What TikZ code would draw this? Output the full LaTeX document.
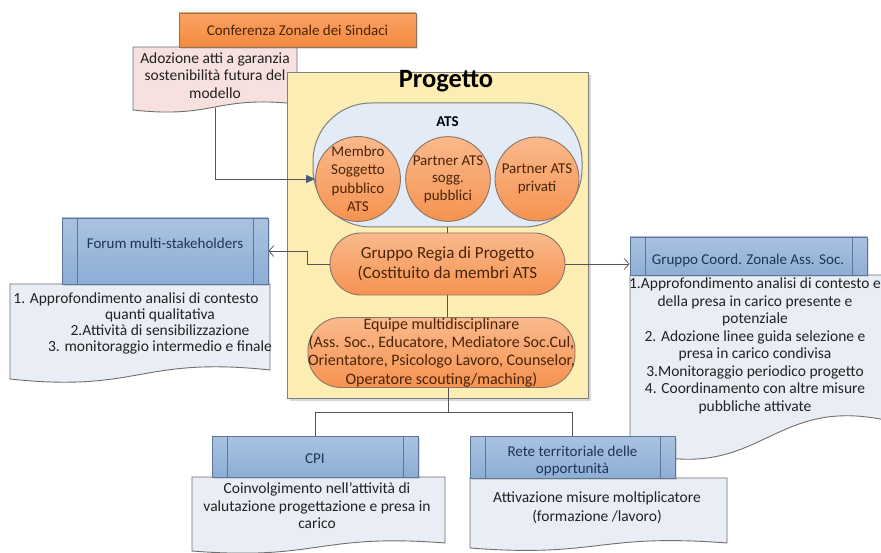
\documentclass[tikz,border=0pt]{standalone}
\usepackage{fontspec}
\setmainfont{Carlito}
\usetikzlibrary{arrows.meta,shadows,calc}
\definecolor{orgTop}{HTML}{FAB98C}
\definecolor{orgBot}{HTML}{F59350}
\definecolor{confTop}{HTML}{F9A466}
\definecolor{confBot}{HTML}{F5883C}
\definecolor{orgLine}{HTML}{8A7466}
\definecolor{orgText}{HTML}{4A2408}
\definecolor{projFill}{HTML}{FCEEB2}
\definecolor{projLine}{HTML}{7F7F7F}
\definecolor{atsFill}{HTML}{E3EBF6}
\definecolor{hdrTop}{HTML}{A9C2E0}
\definecolor{hdrBot}{HTML}{8EAED6}
\definecolor{hdrLine}{HTML}{5E7597}
\definecolor{hdrText}{HTML}{1F3556}
\definecolor{docFill}{HTML}{E9EDF5}
\definecolor{docLine}{HTML}{6F6F6F}
\definecolor{pinkFill}{HTML}{F6E1DE}
\definecolor{txt}{HTML}{222222}
\definecolor{conLine}{HTML}{555555}
\definecolor{arrFill}{HTML}{4B5A7A}
\newcommand\myfs[2]{\fontsize{#1}{#2}\selectfont}
% #1 x1, #2 y top, #3 x2, #4 y bottom-left, #5 rise of right end, #6 wave amplitude, #7 style
\newcommand\docpath[7]{%
  \path[#7] (#1,#2) -- (#3,#2) -- (#3,{#4-#5})
    .. controls ({(#1+#3)/2},{#4-#5-#6}) and ({(#1+#3)/2},{#4+#6}) .. (#1,#4) -- cycle;}
\tikzset{
  docblue/.style={fill=docFill, draw=docLine, line width=0.9pt},
  docpink/.style={fill=pinkFill, draw=docLine, line width=0.9pt},
  hdr/.style={rectangle, top color=hdrTop, bottom color=hdrBot, draw=hdrLine, line width=0.9pt,
    inner sep=0pt,
    path picture={\draw[hdrLine, line width=0.8pt]
      ([xshift=15pt]path picture bounding box.north west) -- ([xshift=15pt]path picture bounding box.south west)
      ([xshift=-15pt]path picture bounding box.north east) -- ([xshift=-15pt]path picture bounding box.south east);}},
  hdrtxt/.style={text=hdrText, align=center, font=\myfs{15}{17}, inner sep=0pt},
  doctxt/.style={text=txt, align=center, font=\myfs{15.5}{17.5}, inner sep=0pt},
  orgcirc/.style={circle, minimum size=84pt, inner sep=0pt, top color=orgTop, bottom color=orgBot,
    draw=orgLine, line width=0.9pt, text=orgText, align=center, font=\myfs{15}{18.5}},
  orgpill/.style={rectangle, inner sep=0pt, top color=orgTop, bottom color=orgBot,
    draw=orgLine, line width=0.9pt, text=orgText, align=center},
  con/.style={draw=conLine, line width=0.8pt},
  arrfill/.style={con, -{Triangle[length=9pt,width=8pt,fill=arrFill,color=arrFill]}},
  arropen/.style={con, -{Straight Barb[length=5pt,width=11pt,line width=0.7pt]}},
}
\begin{document}
\begin{tikzpicture}[x=1pt,y=-1pt]
\useasboundingbox (0,0) rectangle (881,553);
\fill[white] (0,0) rectangle (881,553);

% Forum multi-stakeholders
\docpath{10}{284}{270}{379}{9}{14}{docblue}
\node[doctxt, font=\myfs{15.5}{15.7}] (forumD) at (160,323.5)
  {1. Approfondimento analisi di contesto\hspace*{48pt}\\quanti qualitativa\\2.Attività di sensibilizzazione\\3. monitoraggio intermedio e finale};
\node[hdr, minimum width=206pt, minimum height=66pt, drop shadow={opacity=0.25,shadow xshift=2pt,shadow yshift=-2pt}] (forumH) at (165,251) {};
\node[hdrtxt] (forumT) at (165,243) {Forum multi-stakeholders};

% Gruppo Coord. Zonale
\docpath{630}{275}{905}{450}{25}{40}{docblue}
\node[doctxt] (coordD) at (755,346)
  {1.Approfondimento analisi di contesto e\\della presa in carico presente e\\potenziale\\2. Adozione linee guida selezione e\\presa in carico condivisa\\3.Monitoraggio periodico progetto\\4. Coordinamento con altre misure\\pubbliche attivate};
\node[hdr, minimum width=237pt, minimum height=38pt, drop shadow={opacity=0.25,shadow xshift=2pt,shadow yshift=-2pt}] (coordH) at (748.5,256) {};
\node[hdrtxt] (coordT) at (748,261) {Gruppo Coord. Zonale Ass. Soc.};

% CPI
\docpath{192}{477}{445}{551}{8}{10}{docblue}
\node[doctxt] (cpiD) at (317,506)
  {Coinvolgimento nell’attività di\\valutazione progettazione e presa in\\carico};
\node[hdr, minimum width=206pt, minimum height=41pt, drop shadow={opacity=0.25,shadow xshift=2pt,shadow yshift=-2pt}] (cpiH) at (315,456.5) {};
\node[hdrtxt] (cpiT) at (315,459) {CPI};

% Rete territoriale
\docpath{470}{478}{727}{548}{5}{10}{docblue}
\node[doctxt, font=\myfs{15.5}{19}] (reteD) at (597,507.5)
  {Attivazione misure moltiplicatore\\(formazione /lavoro)};
\node[hdr, minimum width=205pt, minimum height=42pt, drop shadow={opacity=0.25,shadow xshift=2pt,shadow yshift=-2pt}] (reteH) at (572.5,457) {};
\node[hdrtxt] (reteT) at (572.5,460.5) {Rete territoriale delle\\opportunità};

% Conferenza Zonale
\docpath{133}{47}{297}{110}{6}{9}{docpink}
\node[doctxt] (adozD) at (215,75.5)
  {Adozione atti a garanzia\\sostenibilità futura del\\modello};
\node[rectangle, minimum width=237pt, minimum height=34pt, inner sep=0pt, top color=confTop, bottom color=confBot,
  draw=orgLine, line width=0.9pt, text=orgText, font=\myfs{15}{17},
  drop shadow={opacity=0.25,shadow xshift=2pt,shadow yshift=-2pt}] (conf) at (297.5,30) {Conferenza Zonale dei Sindaci};

% Progetto
\node[rectangle, minimum width=301pt, minimum height=326pt, inner sep=0pt, fill=projFill, draw=projLine, line width=0.9pt,
  drop shadow={opacity=0.3,shadow xshift=3pt,shadow yshift=-3pt}] (proj) at (437.5,235) {};
\node[font=\myfs{26.5}{30}\bfseries, text=black, inner sep=0pt] (projT) at (446,81) {Progetto};

% ATS
\node[rectangle, rounded corners=58pt, minimum width=269pt, minimum height=124pt, inner sep=0pt,
  fill=atsFill, draw=projLine, line width=1pt] (ats) at (447.5,165) {};
\node[font=\myfs{15}{17}\bfseries, text=black, inner sep=0pt] (atsT) at (447.5,122) {ATS};
\node[orgcirc] (m1) at (358,179) {Membro\\Soggetto\\pubblico\\ATS};
\node[orgcirc, font=\myfs{15}{17.5}] (m2) at (448,179) {Partner ATS\\sogg.\\pubblici};
\node[orgcirc] (m3) at (537,179) {Partner ATS\\privati};

% Gruppo Regia
\node[orgpill, rounded corners=31pt, minimum width=235pt, minimum height=62pt, font=\myfs{17}{20}] (regia) at (447.5,264)
  {Gruppo Regia di Progetto\\(Costituito da membri ATS};

% Equipe
\node[orgpill, rounded corners=33pt, minimum width=267pt, minimum height=70pt, font=\myfs{16}{18.3}] (equipe) at (441.5,352.5)
  {Equipe multidisciplinare\\(Ass. Soc., Educatore, Mediatore Soc.Cul,\\Orientatore, Psicologo Lavoro, Counselor,\\Operatore scouting/maching)};

% connectors
\coordinate (adozB) at (215,108);
\draw[arrfill] (adozB) |- (m1.west);
\draw[arropen] (regia.west) -- ++(-22,0) |- (forumH.east);
\draw[arropen] (regia.east) -- (regia.east -| coordH.west);
\draw[con] (ats.south) -- (regia.north);
\draw[con] (regia.south) -- (regia.south |- equipe.north);
\coordinate (j) at (448,412);
\draw[con] (j |- equipe.south) -- (j);
\draw[con] (j) -| (cpiH.north);
\draw[con] (j) -| (reteH.north);
\end{tikzpicture}
\end{document}
